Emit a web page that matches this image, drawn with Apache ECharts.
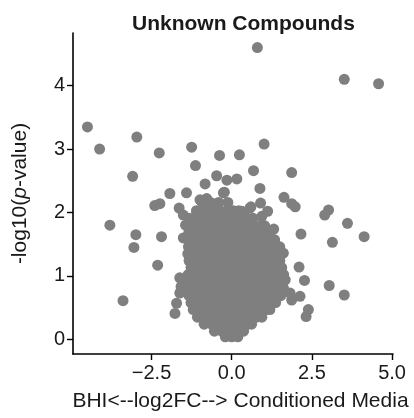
<!DOCTYPE html>
<html><head><meta charset="utf-8">
<script src="https://cdn.jsdelivr.net/npm/echarts@6/dist/echarts.min.js"></script>
<style>html,body{margin:0;padding:0;background:#fff}#c{width:414px;height:418px}</style>
</head><body><div id="c"></div>
<script>
// Chart text
const titleText = 'Unknown Compounds';
const xTitle = 'BHI<--log2FC--> Conditioned Media';
const xTicks = [-2.5, 0, 2.5, 5];
const yTicks = [0, 1, 2, 3, 4];

// Scattered (readable) compounds: log2FC and -log10(p)
const outerFC = [0.80,3.51,4.58,-4.50,-4.12,-2.96,-2.26,-1.25,-0.38,0.24,1.01,-1.13,0.68,1.87,-3.09,-0.47,-0.15,0.16,-0.83,0.88,-1.93,-1.41,-0.23,1.63,-2.40,-2.24,-1.64,1.87,1.98,3.02,2.90,0.90,1.12,0.94,0.60,0.34,-3.80,-2.99,-2.19,-3.05,-1.44,3.61,1.31,2.16,3.14,4.13,0.88,1.20,1.41,1.61,-2.31,2.10,2.27,3.04,3.51,2.13,1.87,2.39,2.32,-3.39,-1.77,-1.62,-1.58,-1.62,-1.72,1.30,1.46,1.56,1.82,1.67,1.25,-1.51,-1.51,-1.09,-0.78,-0.99,-0.26,0.31,0.57];
const outerP  = [4.60,4.10,4.03,3.35,3.00,3.19,2.94,3.03,2.90,2.91,3.08,2.74,2.66,2.63,2.57,2.58,2.51,2.53,2.45,2.38,2.30,2.31,2.32,2.24,2.11,2.14,2.07,2.14,2.09,2.04,1.96,2.15,2.02,1.94,2.09,2.01,1.80,1.65,1.62,1.45,1.80,1.83,1.74,1.66,1.53,1.62,1.62,1.52,1.41,1.36,1.17,1.14,0.93,0.85,0.70,0.68,0.62,0.47,0.36,0.61,0.41,0.97,0.83,0.73,0.57,1.25,1.12,0.97,0.73,0.94,0.83,1.60,1.96,1.99,2.22,2.20,2.31,2.02,2.07];

// Dense core of overlapping compounds: rows of [-log10(p), log2FC values]
const coreRows = [
  [2.16, [-0.92,-0.66,-0.41,-0.12]],
  [2.03, [-1.10,-0.84,-0.60,-0.37,-0.15,0.05,0.22]],
  [1.91, [-1.33,-1.08,-0.86,-0.63,-0.42,-0.18,0.05,0.27,0.49,0.66]],
  [1.79, [-1.36,-1.13,-0.90,-0.67,-0.44,-0.21,0.02,0.25,0.48,0.71,0.90,1.03]],
  [1.68, [-1.34,-1.10,-0.86,-0.63,-0.40,-0.17,0.06,0.29,0.52,0.75,0.98,1.18]],
  [1.57, [-1.36,-1.12,-0.89,-0.66,-0.43,-0.20,0.03,0.26,0.49,0.72,0.95,1.17,1.34]],
  [1.46, [-1.35,-1.11,-0.88,-0.64,-0.41,-0.18,0.05,0.28,0.51,0.74,0.97,1.20,1.42,1.50]],
  [1.35, [-1.37,-1.14,-0.90,-0.67,-0.44,-0.21,0.02,0.25,0.48,0.71,0.94,1.17,1.39,1.51]],
  [1.24, [-1.33,-1.10,-0.87,-0.63,-0.40,-0.17,0.06,0.29,0.52,0.75,0.98,1.21,1.43,1.50]],
  [1.13, [-1.27,-1.04,-0.81,-0.58,-0.35,-0.12,0.11,0.34,0.57,0.80,1.03,1.26,1.48,1.56]],
  [1.02, [-1.36,-1.13,-0.90,-0.67,-0.44,-0.21,0.02,0.25,0.48,0.71,0.94,1.17,1.40,1.62]],
  [0.91, [-1.37,-1.14,-0.91,-0.68,-0.45,-0.22,0.01,0.24,0.47,0.70,0.93,1.16,1.39,1.61]],
  [0.80, [-1.35,-1.12,-0.89,-0.66,-0.43,-0.20,0.03,0.26,0.49,0.72,0.95,1.18,1.41,1.62]],
  [0.69, [-1.33,-1.10,-0.87,-0.64,-0.41,-0.18,0.05,0.28,0.51,0.74,0.97,1.20,1.42,1.53]],
  [0.58, [-1.27,-1.04,-0.81,-0.58,-0.35,-0.12,0.11,0.34,0.57,0.80,1.03,1.25,1.37]],
  [0.47, [-1.20,-0.97,-0.74,-0.51,-0.28,-0.05,0.18,0.41,0.64,0.87,1.10,1.19]],
  [0.35, [-1.07,-0.84,-0.61,-0.38,-0.15,0.08,0.31,0.54,0.77,0.94]],
  [0.24, [-0.86,-0.63,-0.40,-0.17,0.06,0.29,0.50,0.62]],
  [0.13, [-0.54,-0.31,-0.08,0.15,0.37]],
  [0.04, [-0.20,0.00,0.19]]
];

const pts = [];
outerFC.forEach((x, i) => pts.push([x, outerP[i]]));
coreRows.forEach(r => r[1].forEach(x => pts.push([x, r[0]])));

const font = '"Liberation Sans", Arial, Helvetica, sans-serif';

const chart = echarts.init(document.getElementById('c'), null, {renderer: 'canvas'});
chart.setOption({
  animation: false,
  backgroundColor: '#ffffff',
  title: {
    text: titleText, left: 127, top: 9,
    textStyle: {fontFamily: font, fontSize: 21, fontWeight: 'bold', color: '#1a1a1a'}
  },
  grid: {left: 73, right: 21, top: 33, bottom: 64},
  xAxis: {
    type: 'value', min: -4.95, max: 5.03,
    name: xTitle, nameLocation: 'middle', nameGap: 37,
    nameTextStyle: {fontFamily: font, fontSize: 21, color: '#1a1a1a', padding: [0, 0, 0, 15]},
    axisLine: {show: true, onZero: false, lineStyle: {color: '#000', width: 1.6}},
    axisTick: {show: true, length: 6, lineStyle: {color: '#000', width: 1.4}, customValues: xTicks},
    axisLabel: {fontFamily: font, fontSize: 20, color: '#1a1a1a', margin: 9, customValues: xTicks,
      formatter: v => (v < 0 ? '\u2212' + Math.abs(v).toFixed(1) : v.toFixed(1))},
    splitLine: {show: false}
  },
  yAxis: {
    type: 'value', min: -0.23, max: 4.83,
    name: '-log10({i|p}-value)', nameLocation: 'middle', nameGap: 42, nameRotate: 90,
    nameTextStyle: {fontFamily: font, fontSize: 21, color: '#1a1a1a',
      rich: {i: {fontFamily: font, fontSize: 21, fontStyle: 'italic', color: '#1a1a1a'}}},
    axisLine: {show: true, onZero: false, lineStyle: {color: '#000', width: 1.6}},
    axisTick: {show: true, length: 6, lineStyle: {color: '#000', width: 1.4}, customValues: yTicks},
    axisLabel: {fontFamily: font, fontSize: 20, color: '#1a1a1a', margin: 8, customValues: yTicks,
      formatter: v => String(Math.round(v))},
    splitLine: {show: false}
  },
  series: [{
    type: 'scatter', data: pts, symbol: 'circle', symbolSize: 11,
    itemStyle: {color: '#7f7f7f', opacity: 1}, large: false, silent: true
  }]
});
</script></body></html>
